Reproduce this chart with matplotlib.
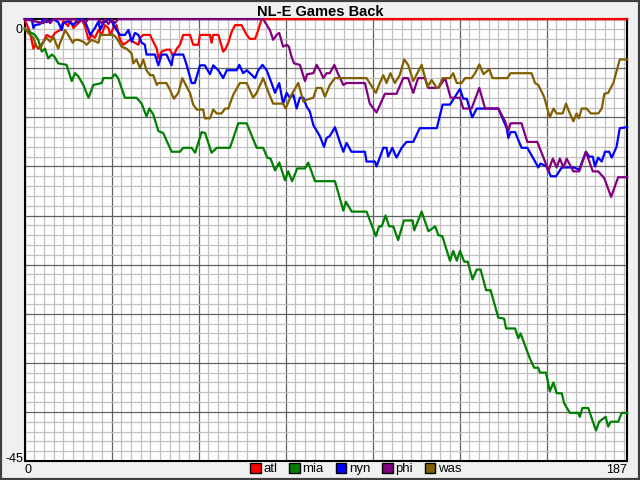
import matplotlib
matplotlib.use("Agg")
import matplotlib.pyplot as plt
from matplotlib.patches import Patch, Rectangle

plt.rcParams['font.family'] = ['Liberation Sans', 'DejaVu Sans']

# games back (game number, games back)
atl_g = [0, 1.7, 2.7, 3.2, 4.2, 5.8, 6.8, 8.4, 9.4, 11, 12, 13.5, 14.1, 15.1, 16.6, 17.7, 18.7, 19.8,
         20.8, 21.8, 22.9, 23.9, 24.9, 26, 26.5, 27.5, 28.5, 29.6, 30.6, 32.7, 34.2, 35.3, 35.8, 36.8,
         38.9, 39.9, 41, 41.5, 42.5, 44, 45.1, 46.1, 47.2, 48.2, 49.2, 51.3, 52.3, 53.9, 54.4, 57.5,
         58, 58.5, 60.1, 61.6, 62.2, 63.2, 64.2, 65.3, 67.3, 68.9, 69.9, 71.5, 72.5, 73.5, 187]
atl_gb = [0, 1.4, 3, 2.6, 3, 2.3, 1.6, 1.9, 1.4, 1.1, 0.2, 0.7, 0, 0.9, 0.4, 0, 0.7, 2.1,
          1.6, 1.9, 1.1, 1.6, 0.6, 0.9, 1.6, 0.9, 0.6, 2.1, 2.6, 2.1, 2.4, 2.6, 1.9, 1.6,
          1.6, 2.3, 3, 4, 3.3, 3.1, 3.1, 3.8, 3, 2.6, 1.6, 1.6, 2.6, 2.6, 1.6, 1.6,
          2.4, 1.6, 1.6, 3.3, 3.1, 2.4, 1.3, 0.6, 0.6, 1.6, 2, 2, 1.1, 0, 0]

mia_g = [0, 3.2, 4.2, 5.3, 6.3, 7.3, 8.4, 9.2, 10.4, 13, 14.6, 15.6, 16.6, 18.2, 19.8, 21.3, 23.9,
         24.4, 27, 28, 29, 31.1, 34.7, 36.3, 37.8, 38.7, 39.9, 41.5, 43, 45.6, 48.2, 49.2, 51.8,
         52.9, 54.9, 56, 58, 59.6, 63.7, 66.3, 68.9, 72, 74, 75.3, 76.3, 77.7, 79, 80.8, 81.8, 83,
         84.6, 87, 88, 90.1, 96.3, 98.9, 99.7, 101.5, 106.1, 109, 110, 110.8, 112, 113.1, 114.4,
         115.9, 117.7, 120.4, 120.9, 123.2, 125.3, 127.4, 128.4, 129.6, 132, 133, 134.1, 135.1,
         136.4, 137.5, 139, 140.3, 141.5, 143.2, 144.6, 147, 148.8, 149.4, 152.2, 153.2, 153.9,
         156.6, 158.1, 159.4, 159.9, 161.8, 163, 164.1, 165.1, 166.7, 167.4, 169.2, 171.8, 172.3,
         173.1, 174.9, 177.3, 178.3, 180.3, 181.1, 181.9, 184.2, 185.3, 187]
mia_gb = [1, 1.6, 2.1, 3.3, 3, 4, 3.6, 3.8, 4.5, 4.65, 6.3, 5.5, 5.8, 6.7, 8, 6.7, 6.5,
          6, 6, 5.6, 6, 8, 8, 8.6, 9.9, 9.1, 9.7, 11.4, 11.6, 13.5, 13.5, 13.1, 13.1,
          13.6, 11.5, 11.6, 13.6, 13.1, 13.1, 10.6, 10.6, 13.1, 13.1, 14.1, 14.2, 15.4, 14.6, 16.4, 15.5, 16.5,
          15.2, 15.2, 14.6, 16.5, 16.5, 19.5, 18.6, 19.6, 19.6, 22.1, 21.1, 21.1, 20, 21.1, 21.1,
          22.5, 20.5, 20.5, 21.5, 19.6, 21.6, 21.1, 22, 22.1, 24.6, 23.6, 24.6, 23.6,
          24.7, 24.7, 26.5, 25.5, 25.5, 27.6, 27.6, 30.4, 30.5, 31.5, 31.5, 32.5, 32,
          34.4, 35.5, 35.5, 36, 36, 37.9, 37, 38.1, 38.1, 39.1, 40.1, 40.1, 40.5,
          39.6, 39.6, 41.9, 41, 40.5, 41.5, 41, 41, 40.1, 40.1]

nyn_g = [0, 2.2, 2.7, 3.2, 4.8, 5.8, 6.8, 8.9, 10.4, 11.5, 12, 13.5, 15.1, 16.6, 18.2, 19.2, 20.3,
         21.8, 22.9, 23.4, 24.4, 26, 27, 28.5, 29.6, 31.1, 32.2, 33.2, 34.2, 35.3, 36.3, 37.3, 37.8,
         40.4, 41.5, 42.5, 44, 45.6, 46.1, 49.2, 50.3, 51.8, 52.8, 54.4, 55.9, 57.5, 58.5, 60.1,
         61.6, 62.7, 65.8, 66.6, 67.8, 68.9, 69.9, 71.5, 72.5, 73.8, 75.1, 76.6, 77.7, 79, 80.2,
         81.3, 82.3, 83.4, 84.4, 85.4, 86.5, 87.5, 88.5, 89.6, 91.6, 92.9, 93.7, 94.7, 96.3, 97.8,
         98.9, 99.9, 101.4, 105.6, 106.1, 108.7, 109.2, 111.3, 112.3, 112.8, 114.1, 115.4, 117,
         118.5, 120.6, 122.6, 127.9, 129.7, 132, 135.1, 136.1, 137.2, 138.9, 140.3, 147, 149.6,
         150.1, 150.8, 152.2, 154.2, 156, 157.9, 159.4, 160.1, 162, 163.3, 164.9, 166.7, 170.3,
         172.1, 174.2, 175.2, 176.3, 177, 178, 179.1, 180.1, 181.4, 182.2, 183.7, 184.7, 187]
nyn_gb = [0, 0, 0.9, 0.6, 0.5, 0, 0.3, 0, 0.3, 1.1, 0.4, 0.2, 0.6, 0, 0, 0.6, 1.6,
          0.9, 0.2, 1.1, 0.4, 0, 0.2, 1.1, 1.6, 1.6, 1.1, 2.3, 1.4, 1.6, 2.4, 2.6, 3.6,
          3.6, 4.7, 3.6, 3.6, 4.7, 3.6, 3.6, 4.7, 6.5, 6.5, 4.7, 4.7, 5.6, 4.7, 5.2,
          6, 5.2, 5.2, 4.65, 5.5, 5.2, 5.5, 6, 5.2, 4.65, 5.2, 6.5, 7.5, 6.5, 8.6,
          7.5, 8, 7.7, 9.1, 8, 8, 8.9, 9.4, 10.8, 11.9, 13, 12.1, 11.9, 11, 12.5,
          13.5, 12.6, 13.5, 13.5, 14.5, 14.5, 15, 13.1, 13.1, 14, 13.1, 14.1, 13.1,
          12.5, 12.5, 11.1, 11.1, 8.7, 8.7, 7.1, 8.1, 8.1, 10, 9.1, 9.1, 11.1,
          12.1, 11.5, 11.5, 13.1, 13.1, 14.2, 15.1, 14.7, 15, 16, 16, 15.1, 15.1,
          15.3, 13.5, 14, 14, 15, 14.1, 14.5, 13.5, 13.5, 14.1, 13, 11.1, 11]

phi_g = [0, 5.8, 6.8, 7.9, 8.9, 15.6, 16.6, 17.7, 18.7, 19.7, 22.9, 23.9, 24.9, 26, 27, 28, 29, 74,
         76.1, 77.1, 78.2, 79, 80.2, 81.3, 82, 82.8, 83.6, 85.4, 87, 87.7, 89.6, 90.6, 91.6, 92.7,
         93.7, 94.7, 96.1, 97.3, 98.9, 99.9, 105.6, 107.1, 109.2, 111.8, 115.4, 117.5, 119, 120.6,
         122.1, 124.2, 125.3, 128.4, 130.5, 132.2, 135.1, 136.1, 138.7, 141.1, 142.9, 147, 149.1,
         150.1, 150.8, 154.2, 156, 159.1, 161.5, 162.5, 163.9, 165.1, 166.1, 167.2, 168.2, 170.3,
         172.1, 174.2, 176.3, 178, 179.9, 182, 184.2, 187]
phi_gb = [0, 0.4, 0, 0.4, 0, 0, 0.4, 0, 0.4, 0, 0, 0.4, 0, 0.5, 0, 0.4, 0, 0,
          1.1, 2.1, 1.6, 1.4, 2.8, 2.6, 2.8, 3.8, 4.5, 4.65, 6.3, 5.6, 5.5, 4.65, 5.2, 6,
          5.5, 5.5, 4.65, 5.6, 6.7, 6.5, 6.5, 8.6, 9.5, 7.6, 7.6, 6, 6, 7.5,
          6, 6, 7, 7, 6, 8, 8, 9.1, 9.1, 7, 9.1, 9.1, 10.4,
          11.4, 10.6, 10.6, 12.5, 12.5, 14.5, 15.5, 14.2, 15.1, 14.2, 15.1, 14.2, 15.5,
          15.5, 13.5, 15.5, 15.5, 16.2, 18.1, 16.1, 16.1]

was_g = [0, 1.1, 2.7, 3.7, 4.8, 5.8, 6.8, 7.9, 8.9, 9.9, 10.4, 11, 12, 12.5, 13.5, 14.9, 15.6,
         16.6, 18.2, 19.2, 20.8, 22.9, 23.4, 27.5, 28.5, 30.1, 31.6, 33.2, 33.7, 34.7, 35.8, 36.8,
         37.8, 38.9, 39.9, 41, 41.5, 44, 45.1, 46.3, 47.7, 48.9, 50, 51.3, 52.3, 53.4, 55.4, 55.9,
         57.5, 58.5, 59.6, 61.1, 62.2, 63.2, 64.7, 66.8, 68.9, 70.9, 72, 74, 75.6, 77.1, 80.2, 81,
         82.8, 84.9, 86.5, 87.5, 89.6, 90.6, 92.1, 93.2, 94.7, 96.3, 98.9, 106.1, 109, 110.2,
         111.3, 112.3, 113.5, 114.9, 116.4, 117.8, 119, 120.6, 123.2, 125, 126.3, 127.9, 128.4,
         129.7, 132, 133, 134.1, 135.6, 136.7, 138.7, 139.8, 141.1, 142.4, 144.2, 145.2, 149.8,
         150.8, 157.3, 158.4, 159.4, 161.2, 162.2, 163, 164.1, 165.1, 167, 168, 169.2, 170.3,
         171.3, 172, 172.9, 174.4, 175.7, 178, 179.1, 179.9, 181.1, 182.7, 184.7, 187]
was_gb = [0.9, 1.4, 1.9, 2.8, 3, 2.3, 1.9, 2.3, 1.8, 2.6, 3, 2.4, 1.6, 1.1, 1.6, 2.4, 2.1,
          2.1, 2.3, 2.6, 2.1, 2.4, 1.6, 1.6, 1.9, 2.8, 3, 3.5, 4.5, 4.1, 5, 4.1,
          5.2, 5.7, 5.7, 6.7, 6.5, 6.5, 7.2, 8.1, 7.5, 6, 6.7, 7.5, 8.7, 9.2, 9.2, 10.1,
          10.1, 9.2, 9.6, 9.6, 9.1, 9.1, 7.7, 6.5, 6.5, 8, 7.5, 6, 7.4, 8.6, 8.6, 9.1,
          7.7, 6.5, 8.4, 8.2, 8, 7, 7, 7.9, 6.7, 6, 6, 6, 7.5, 6.5,
          5.7, 6.5, 5.5, 6.5, 5.7, 4.1, 4.65, 6.3, 4.65, 6.9, 6.2, 7, 7,
          6, 6, 5.5, 6.5, 6.5, 6, 6, 5.5, 4.6, 5.6, 5.1, 6, 6,
          5.5, 5.5, 6.5, 6.7, 7.9, 9.1, 10, 9.1, 9.6, 9.6, 8.6, 9.6, 10.4,
          9.6, 10.1, 9.1, 9.1, 9.6, 9.6, 9.1, 7.6, 7.5, 6.5, 4.1, 4.1]

teams = ['atl', 'mia', 'nyn', 'phi', 'was']
colors = ['#ff0000', '#008000', '#0000ff', '#800080', '#806000']
series = [(atl_g, atl_gb), (mia_g, mia_gb), (nyn_g, nyn_gb), (phi_g, phi_gb), (was_g, was_gb)]

fig = plt.figure(figsize=(6.4, 4.8), dpi=100, facecolor='#f0f0f0')
ax = fig.add_axes([0.0386, 0.0396, 0.9414, 0.9204])
ax.set_facecolor('white')

ax.set_xlim(0, 187)
ax.set_ylim(-45, 0)
ax.set_xticks(range(0, 188, 27))
ax.set_xticks(range(0, 188, 3), minor=True)
ax.set_yticks(range(-45, 1, 5))
ax.set_yticks(range(-45, 1, 1), minor=True)
ax.grid(which='minor', color='#c0c0c0', lw=0.9)
ax.grid(which='major', color='#606060', lw=0.9)
ax.tick_params(which='both', length=0, labelbottom=False, labelleft=False)
ax.set_axisbelow(True)
for s in ax.spines.values():
    s.set_color('black')
    s.set_linewidth(1.5)

for (g, gb), c in zip(series, colors):
    ax.plot(g, [-v for v in gb], color=c, lw=1.6, clip_on=False, zorder=3)

# end labels only
ax.text(-0.003, 0.99, '0', transform=ax.transAxes, ha='right', va='top', fontsize=9)
ax.text(-0.003, -0.008, '-45', transform=ax.transAxes, ha='right', va='bottom', fontsize=9)
ax.text(0.0, -0.006, '0', transform=ax.transAxes, ha='left', va='top', fontsize=9)
ax.text(1.0, -0.006, '187', transform=ax.transAxes, ha='right', va='top', fontsize=9)

fig.text(0.5, 1 - 12 / 480, 'NL-E Games Back', ha='center', va='center',
         fontsize=10.5, fontweight='bold')

handles = [Patch(facecolor=c, edgecolor='black') for c in colors]
fig.legend(handles, teams, loc='center', bbox_to_anchor=(356 / 640, 1 - 469 / 480), ncol=5,
           frameon=False, fontsize=9.5, handlelength=0.8, handleheight=0.8,
           handletextpad=0.2, columnspacing=0.9, borderpad=0, borderaxespad=0)

fig.patches.append(Rectangle((0, 0), 1, 1, transform=fig.transFigure, fill=False,
                             edgecolor='#404040', lw=3))

fig.savefig('out.png', dpi=100, facecolor=fig.get_facecolor())
